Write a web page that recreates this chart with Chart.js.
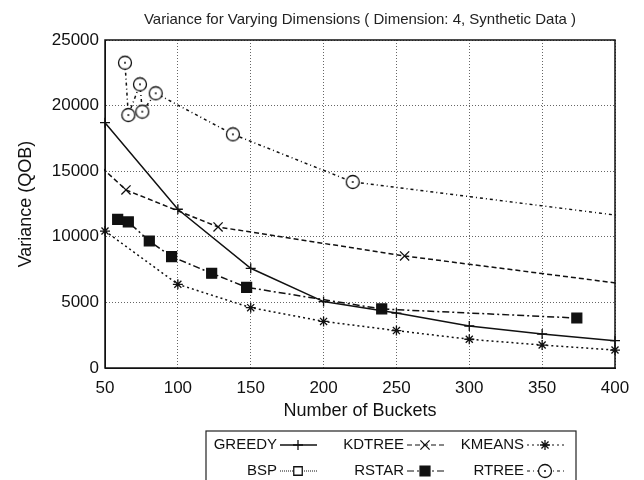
<!DOCTYPE html>
<html>
<head>
  <meta charset="utf-8">
  <title>Variance for Varying Dimensions</title>
  <script src="https://cdn.jsdelivr.net/npm/chart.js"></script>
  <style>
    body {
      margin: 0;
      background: #fff;
    }
    #wrap {
      width: 644px;
      height: 480px;
    }
  </style>
</head>
<body>
  <div id="wrap"><canvas id="varChart"></canvas></div>

  <script>
    // Greedy and k-means were run at the same bucket counts
    const buckets = [50, 100, 150, 200, 250, 300, 350, 400];
    const greedyVals = [18700, 12100, 7600, 5060, 4190, 3200, 2590, 2080];
    const kmeansVals = [10440, 6380, 4600, 3550, 2850, 2190, 1750, 1370];

    // the tree methods report their own bucket counts
    const kdtreeBuckets = [32, 64.4, 127.6, 255.6, 512];
    const kdtreeVals = [16900, 13570, 10750, 8540, 4900];
    const rstarBuckets = [58.7, 66, 80.4, 95.7, 123.2, 147.2, 239.9, 373.8];
    const rstarVals = [11330, 11130, 9680, 8490, 7220, 6150, 4500, 3810];
    const rtreeBuckets = [63.7, 66, 74, 75.6, 84.8, 137.8, 220, 450];
    const rtreeVals = [23270, 19280, 21620, 19540, 20940, 17810, 14180, 10960];
    const bspBuckets = [];
    const bspVals = [];

    const xTicks = [50, 100, 150, 200, 250, 300, 350, 400];
    const yTicks = [0, 5000, 10000, 15000, 20000, 25000];

    const chartTitle = 'Variance for Varying Dimensions ( Dimension: 4, Synthetic Data )';
    const FONT = '"Liberation Sans", Arial, Helvetica, sans-serif';

    function pairs(xs, ys) {
      return xs.map((x, i) => ({ x: x, y: ys[i] }));
    }

    // circle with a dot in the middle, used for the RTREE marks
    function dottedCircle() {
      const c = document.createElement('canvas');
      c.width = 16;
      c.height = 16;
      const g = c.getContext('2d');
      g.fillStyle = '#fff';
      g.strokeStyle = '#111';
      g.lineWidth = 1.3;
      g.beginPath();
      g.arc(8, 8, 6.5, 0, Math.PI * 2);
      g.fill();
      g.stroke();
      g.fillStyle = '#111';
      g.beginPath();
      g.arc(8, 8, 1, 0, Math.PI * 2);
      g.fill();
      return c;
    }

    function series(label, data, dash, style, radius, fill, clip) {
      return {
        label: label,
        data: data,
        borderColor: '#111',
        backgroundColor: fill,
        borderWidth: 1.5,
        borderDash: dash,
        pointStyle: style,
        pointRadius: radius,
        pointHoverRadius: radius,
        pointBorderColor: '#111',
        pointBackgroundColor: fill,
        pointBorderWidth: 1.3,
        tension: 0,
        clip: clip
      };
    }

    const datasets = [
      series('GREEDY', pairs(buckets, greedyVals), [], 'cross', 5, '#111', 10),
      series('KDTREE', pairs(kdtreeBuckets, kdtreeVals), [5, 3], 'crossRot', 6.5, '#111', 1),
      series('KMEANS', pairs(buckets, kmeansVals), [2, 3], 'star', 5, '#111', 10),
      series('BSP', pairs(bspBuckets, bspVals), [1, 1], 'rect', 6, '#fff', 1),
      series('RSTAR', pairs(rstarBuckets, rstarVals), [7, 3, 2, 3], 'rect', 7, '#111', 10),
      series('RTREE', pairs(rtreeBuckets, rtreeVals), [3, 3, 1, 3], dottedCircle(), 6.5, '#fff', 1)
    ];

    // full frame around the plot area
    const frame = {
      id: 'frame',
      afterDatasetsDraw(chart) {
        const a = chart.chartArea;
        const ctx = chart.ctx;
        ctx.save();
        ctx.strokeStyle = '#111';
        ctx.lineWidth = 1.5;
        ctx.strokeRect(a.left, a.top, a.right - a.left, a.bottom - a.top);
        ctx.restore();
      }
    };

    // title centred over the plot area rather than the canvas
    const plotTitle = {
      id: 'plotTitle',
      afterDraw(chart) {
        const a = chart.chartArea;
        const ctx = chart.ctx;
        ctx.save();
        ctx.font = '15px ' + FONT;
        ctx.fillStyle = '#222';
        ctx.textAlign = 'center';
        ctx.textBaseline = 'middle';
        ctx.fillText(chartTitle, (a.left + a.right) / 2, 20);
        ctx.restore();
      }
    };

    // boxed key: label right-aligned, then a sample of line and mark
    const boxKey = {
      id: 'boxKey',
      afterDraw(chart) {
        const ctx = chart.ctx;
        const cols = [277, 404, 524];
        const rows = [445, 471];
        ctx.save();
        ctx.strokeStyle = '#222';
        ctx.lineWidth = 1.2;
        ctx.strokeRect(206, 431, 370, 52);
        ctx.font = '15px ' + FONT;
        ctx.textAlign = 'right';
        ctx.textBaseline = 'middle';
        chart.data.datasets.forEach((ds, i) => {
          const tx = cols[i % 3];
          const ty = rows[Math.floor(i / 3)];
          ctx.fillStyle = '#111';
          ctx.fillText(ds.label, tx, ty);
          ctx.strokeStyle = ds.borderColor;
          ctx.lineWidth = ds.borderDash.length ? 1.2 : 1.5;
          ctx.setLineDash(ds.borderDash);
          ctx.beginPath();
          ctx.moveTo(tx + 3, ty);
          ctx.lineTo(tx + 40, ty);
          ctx.stroke();
          ctx.setLineDash([]);
          ctx.fillStyle = ds.pointBackgroundColor;
          ctx.strokeStyle = ds.pointBorderColor;
          ctx.lineWidth = ds.pointBorderWidth;
          Chart.helpers.drawPoint(ctx, {
            pointStyle: ds.pointStyle,
            radius: ds.pointRadius,
            rotation: 0,
            borderWidth: ds.pointBorderWidth
          }, tx + 21, ty);
        });
        ctx.restore();
      }
    };

    const grid = {
      color: '#666',
      lineWidth: 1,
      drawTicks: false
    };
    const dotted = { display: true, color: '#111', dash: [1, 2] };

    new Chart(document.getElementById('varChart'), {
      type: 'line',
      data: { datasets: datasets },
      plugins: [frame, plotTitle, boxKey],
      options: {
        responsive: true,
        maintainAspectRatio: false,
        animation: false,
        layout: { padding: { left: 5, right: 29, top: 40, bottom: 52 } },
        plugins: {
          legend: { display: false },
          tooltip: { enabled: false }
        },
        scales: {
          x: {
            type: 'linear',
            min: 50,
            max: 400,
            afterBuildTicks(scale) {
              scale.ticks = xTicks.map(v => ({ value: v }));
            },
            afterFit(scale) { scale.height = 60; },
            grid: grid,
            border: dotted,
            ticks: {
              color: '#111',
              padding: 10,
              font: { family: FONT, size: 17 },
              callback: v => String(v)
            },
            title: {
              display: true,
              text: 'Number of Buckets',
              color: '#111',
              padding: { top: 0, bottom: 6 },
              font: { family: FONT, size: 18 }
            }
          },
          y: {
            min: 0,
            max: 25000,
            afterBuildTicks(scale) {
              scale.ticks = yTicks.map(v => ({ value: v }));
            },
            afterFit(scale) { scale.width = 100; },
            grid: grid,
            border: dotted,
            ticks: {
              color: '#111',
              padding: 6,
              font: { family: FONT, size: 17 },
              callback: v => String(v)
            },
            title: {
              display: true,
              text: 'Variance (QOB)',
              color: '#111',
              padding: { top: 10, bottom: 0 },
              font: { family: FONT, size: 18 }
            }
          }
        }
      }
    });
  </script>
</body>
</html>
